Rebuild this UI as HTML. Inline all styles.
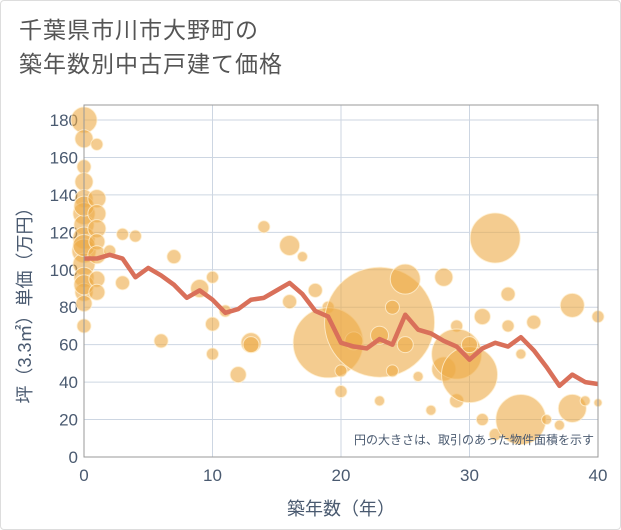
<!DOCTYPE html>
<html><head><meta charset="utf-8"><style>
body{margin:0;background:#fff;}
#wrap{position:relative;width:621px;height:530px;font-family:"Liberation Sans","Noto Sans CJK JP",sans-serif;border:1px solid #ddd;box-sizing:border-box;border-radius:4px;overflow:hidden}
#title{position:absolute;left:18px;top:12px;font-size:23px;line-height:34px;color:#555;letter-spacing:1px}
</style></head><body>
<div id="wrap">
<div id="title">千葉県市川市大野町の<br>築年数別中古戸建て価格</div>
<svg id="chart" width="621" height="530" style="position:absolute;left:0;top:0"></svg>
</div>
<script>
const xTicks=[0,10,20,30,40];
const yTicks=[0,20,40,60,80,100,120,140,160,180];
const lineYears=[0,1,2,3,4,5,6,7,8,9,10,11,12,13,14,15,16,17,18,19,20,21,22,23,24,25,26,27,28,29,30,31,32,33,34,35,36,37,38,39,40];
const lineValues=[106,106,108,106,96,101,97,92,85,89,84,77,79,84,85,89,93,87,78,75,61,59,58,63,60,76,68,66,62,59,52,58,61,59,64,57,48,38,44,40,39];
const bubbleX=[0,0,0,0,0,0,0,0,0,0,0,0,0,0,0,0,0,1,1,1,1,1,1,1,1,2,3,3,4,6,7,9,10,10,10,11,12,13,13,14,16,16,17,18,19,19,20,20,21,23,23,23,24,24,25,25,26,27,28,28,29,29,29,30,30,31,31,32,32,33,33,34,34,35,36,37,38,38,39,40,40];
const bubbleY=[180,170,155,147,138,130,124,117,110,103,96,88,82,70,134,113,92,167,138,130,122,115,108,95,88,110,119,93,118,62,107,90,96,71,55,78,44,61,60,123,113,83,107,89,80,61,46,35,62,72,30,65,80,46,95,60,43,25,47,96,70,30,55,44,60,20,75,117,12,87,70,20,55,72,20,17,81,26,30,75,29];
const bubbleSize=[13,9,7,9,9,11,10,11,12,11,10,9,8,7,10,11,10,6,9,9,9,8,9,8,8,6,6,7,6,7,7,9,6,7,6,6,8,10,8,6,10,7,5,7,6,35,6,6,9,55,5,9,7,6,15,8,5,5,12,9,6,7,25,28,8,6,8,25,6,7,6,25,5,7,5,5,12,14,5,6,4];
const svg=document.getElementById('chart');
const NS='http://www.w3.org/2000/svg';
const L=83,R=597,T=104,B=456;
const xs=v=>L+(v-0)/(40-0)*(R-L);
const ys=v=>B-v/180*(B-119);
function mk(tag,attrs){const e=document.createElementNS(NS,tag);for(const k in attrs)e.setAttribute(k,attrs[k]);svg.appendChild(e);return e;}
yTicks.forEach(t=>{const g=mk('line',{x1:L,x2:R,y1:ys(t),y2:ys(t),stroke:'#cdd6e2','stroke-width':1});


const tx=mk('text',{x:L-6,y:ys(t)+6,'text-anchor':'end','font-size':17,fill:'#4a5a70'});tx.textContent=t;

});
xTicks.forEach(t=>{const g=mk('line',{x1:xs(t),x2:xs(t),y1:T,y2:B,stroke:'#cdd6e2','stroke-width':1});


const tx=mk('text',{x:xs(t),y:B+24,'text-anchor':'middle','font-size':17,fill:'#4a5a70'});tx.textContent=t;

});
bubbleX.forEach((x,i)=>{const c=mk('circle',{cx:xs(x),cy:ys(bubbleY[i]),r:bubbleSize[i],fill:'rgba(236,170,70,0.6)',stroke:'rgba(255,240,210,0.8)','stroke-width':1});

});
const p=mk('polyline',{points:lineYears.map((y,i)=>xs(y)+','+ys(lineValues[i])).join(' '),fill:'none',stroke:'#d9705a','stroke-width':4.5,'stroke-linejoin':'round'});


const f=mk('rect',{x:L,y:T,width:R-L,height:B-T,fill:'none',stroke:'#999','stroke-width':1});


const note=mk('text',{x:593,y:443,'text-anchor':'end','font-size':12,fill:'#4a5a70'});note.textContent='円の大きさは、取引のあった物件面積を示す';


const xt=mk('text',{x:340,y:514,'text-anchor':'middle','font-size':18,fill:'#4a5a70'});xt.textContent='築年数（年）';


const yt=mk('text',{x:0,y:0,'text-anchor':'middle','font-size':18,fill:'#4a5a70',transform:'translate(30,300) rotate(-90)'});yt.textContent='坪（3.3㎡）単価（万円）';


</script>
</body></html>
